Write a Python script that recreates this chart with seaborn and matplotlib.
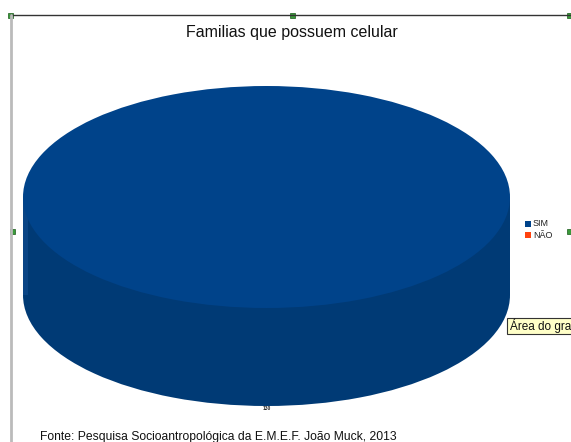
import matplotlib
matplotlib.use('Agg')
import matplotlib.pyplot as plt
from matplotlib.patches import Rectangle
import seaborn as sns

# data
categories = ['SIM', 'NÃO']
values = [130, 0]
top_colors = ['#00438a', '#ff420e']
side_colors = ['#003a75', '#c8320a']
title = 'Familias que possuem celular'
source = 'Fonte: Pesquisa Socioantropológica da E.M.E.F. João Muck, 2013'
tooltip = 'Área do gra'

sns.set_style('white')
plt.rcParams['font.family'] = ['Liberation Sans', 'DejaVu Sans']

W, H = 571, 442
fig = plt.figure(figsize=(W / 100, H / 100), dpi=100)

# background axes in pixel coords for frame, handles and texts
bg = fig.add_axes([0, 0, 1, 1])
bg.set_xlim(0, W)
bg.set_ylim(H, 0)
bg.axis('off')
bg.plot([10, W], [15, 15], color='#333333', lw=1)
bg.plot([11, 11], [15, H], color='#bbbbbb', lw=2)
for hx, hy in [(10, 15), (292, 15), (569, 15), (12, 231), (569, 231)]:
    bg.add_patch(Rectangle((hx - 2.5, hy - 2.5), 5, 5, facecolor='#3a9a3a',
                           edgecolor='#1a5a1a', lw=0.5))

bg.text(292, 32, title, ha='center', va='center', fontsize=11.5, color='#111111')
bg.text(40, 437, source, ha='left', va='center', fontsize=8.7, color='#111111')

# legend
for i, (cat, col) in enumerate(zip(categories, top_colors)):
    y = 224 + i * 11
    bg.add_patch(Rectangle((525, y - 3), 6, 6, facecolor=col, edgecolor='none'))
    bg.text(533, y, cat, ha='left', va='center', fontsize=6.5, color='#222222')

# tooltip box
bg.add_patch(Rectangle((507, 318), 70, 16, facecolor='#ffffc8',
                       edgecolor='#333333', lw=0.8))
bg.text(510, 326, tooltip, ha='left', va='center', fontsize=8.5,
        color='#111111')

# 3D pie: ellipse axes
left, right, top, bottom = 23, 510, 86, 406
ry = 111.0
depth = (bottom - top - 2 * ry) / ry
ax = fig.add_axes([left / W, (H - bottom) / H, (right - left) / W, (bottom - top) / H])

ax.pie(values, colors=side_colors, center=(0, -depth), radius=1,
       startangle=90, counterclock=False, frame=True,
       wedgeprops=dict(linewidth=0))
ax.add_patch(Rectangle((-1, -depth), 2, depth, facecolor=side_colors[0],
                       edgecolor='none', zorder=2))
ax.add_patch(Rectangle((-1, -depth), 0.02, depth, facecolor='#0a4585',
                       edgecolor='none', zorder=2))
ax.pie(values, colors=top_colors, center=(0, 0), radius=1,
       startangle=90, counterclock=False, frame=True,
       wedgeprops=dict(linewidth=0, zorder=3))
ax.set_xlim(-1, 1)
ax.set_ylim(-1 - depth, 1)
ax.set_aspect('auto')
ax.axis('off')

bg.text(267, 408, str(values[0]), ha='center', va='center', fontsize=3.5,
        fontweight='bold', color='#222222')

fig.savefig('out.png', dpi=100)
